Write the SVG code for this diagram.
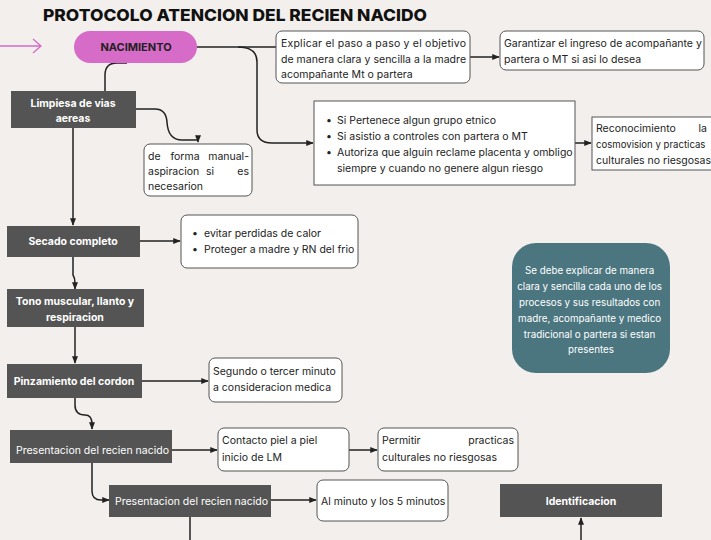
<svg xmlns="http://www.w3.org/2000/svg" width="711" height="540" viewBox="0 0 711 540">
<style>
.t{font-family:Inter,"Open Sans","Liberation Sans",sans-serif;font-size:10.5px;fill:#222}
.w{font-family:Inter,"Open Sans","Liberation Sans",sans-serif;font-size:10.5px;fill:#fff}
.b{font-weight:700}
.dk{fill:#545454}
.bx{fill:#fff;stroke:#555;stroke-width:1}
.c{fill:none;stroke:#222;stroke-width:1.5}
</style>
<defs>
<marker id="ah" viewBox="0 0 10 10" refX="9" refY="5" markerWidth="5" markerHeight="5" orient="auto"><path d="M0 1 L10 5 L0 9 Z" fill="#222"/></marker>
</defs>
<rect width="711" height="540" fill="#f3efec"/>
<text x="43" y="21" font-family="Inter,'DejaVu Sans',sans-serif" font-weight="800" font-size="16.5" fill="#111" textLength="384" lengthAdjust="spacingAndGlyphs">PROTOCOLO ATENCION DEL RECIEN NACIDO</text>

<g id="connectors">
<path d="M0 46 H41 M33 39 L41 46 L33 53" fill="none" stroke="#d66bc8" stroke-width="1.3"/>
<path class="c" d="M197 47 H276"/>
<path class="c" d="M238 47 Q257 47 257 62 V130 Q257 143 272 143 H313" marker-end="url(#ah)"/>
<path class="c" d="M470 57 H499" marker-end="url(#ah)"/>
<path class="c" d="M575 143 H591" marker-end="url(#ah)"/>
<path class="c" d="M127 63 H117 Q105 63 105 75 V91"/>
<path class="c" d="M136 109 H155 Q166 109 167 122 Q168 140 182 140 H198 V142" marker-end="url(#ah)"/>
<path class="c" d="M73 128 V225" marker-end="url(#ah)"/>
<path class="c" d="M140 241 H180" marker-end="url(#ah)"/>
<path class="c" d="M73 257 V275 Q75 278 75 283 V289" marker-end="url(#ah)"/>
<path class="c" d="M75 327 V363" marker-end="url(#ah)"/>
<path class="c" d="M142 381 H208" marker-end="url(#ah)"/>
<path class="c" d="M75 398 V405 Q75 415 85 415 Q92 415 92 424 V429" marker-end="url(#ah)"/>
<path class="c" d="M172 450 H217" marker-end="url(#ah)"/>
<path class="c" d="M349 450 H377" marker-end="url(#ah)"/>
<path class="c" d="M92 463 V491 Q92 500 101 500 H109" marker-end="url(#ah)"/>
<path class="c" d="M271 500 H316" marker-end="url(#ah)"/>
<path class="c" d="M190 517 V540"/>
<path class="c" d="M581 540 V518" marker-end="url(#ah)"/>
</g>

<g id="nacimiento">
<rect x="74" y="31" width="123" height="32" rx="16" fill="#d66bc8"/>
<text class="t b" x="136" y="51" text-anchor="middle" style="font-size:11px">NACIMIENTO</text>
</g>

<g id="explicar">
<rect class="bx" x="276" y="31" width="194" height="52" rx="6"/>
<text class="t" x="281" y="47" textLength="185" lengthAdjust="spacing">Explicar el paso a paso y el objetivo</text>
<text class="t" x="281" y="63" textLength="185" lengthAdjust="spacing">de manera clara y sencilla a la madre</text>
<text class="t" x="281" y="78">acompañante Mt o partera</text>
</g>

<g id="garantizar">
<rect class="bx" x="500" y="31" width="204" height="39" rx="6"/>
<text class="t" x="504" y="47">Garantizar el ingreso de acompañante y</text>
<text class="t" x="504" y="63">partera o MT si asi lo desea</text>
</g>

<g id="bullets1">
<rect class="bx" x="314" y="101" width="261" height="84"/>
<text class="t" x="326" y="124">•</text><text class="t" x="337" y="124">Si Pertenece algun grupo etnico</text>
<text class="t" x="326" y="140">•</text><text class="t" x="337" y="140">Si asistio a controles con partera o MT</text>
<text class="t" x="326" y="156">•</text><text class="t" x="337" y="156">Autoriza que alguin reclame placenta y ombligo</text>
<text class="t" x="337" y="172">siempre y cuando no genere algun riesgo</text>
</g>

<g id="reconocimiento">
<rect class="bx" x="592" y="117" width="125" height="53"/>
<text class="t" x="596" y="132">Reconocimiento</text><text class="t" x="707" y="132" text-anchor="end">la</text>
<text class="t" x="596" y="148" style="font-size:9.6px">cosmovision y practicas</text>
<text class="t" x="596" y="164">culturales no riesgosas</text>
</g>

<g id="limpieza">
<rect class="dk" x="11" y="91" width="125" height="37"/>
<text class="w b" x="73" y="107" text-anchor="middle">Limpiesa de vias</text>
<text class="w b" x="73" y="122" text-anchor="middle">aereas</text>
</g>

<g id="manual">
<rect class="bx" x="144" y="144" width="108" height="52" rx="6"/>
<text class="t" x="148" y="160">de</text><text class="t" x="185" y="160" text-anchor="middle">forma</text><text class="t" x="249" y="160" text-anchor="end">manual-</text>
<text class="t" x="148" y="175">aspiracion</text><text class="t" x="210" y="175" text-anchor="middle">si</text><text class="t" x="249" y="175" text-anchor="end">es</text>
<text class="t" x="148" y="190">necesarion</text>
</g>

<g id="secado">
<rect class="dk" x="7" y="226" width="133" height="31"/>
<text class="w b" x="73" y="245" text-anchor="middle">Secado completo</text>
</g>

<g id="evitar">
<rect class="bx" x="181" y="215" width="177" height="53" rx="6"/>
<text class="t" x="192" y="237">•</text><text class="t" x="204" y="237">evitar perdidas de calor</text>
<text class="t" x="192" y="253">•</text><text class="t" x="204" y="253">Proteger a madre y RN del frio</text>
</g>

<g id="tono">
<rect class="dk" x="7" y="289" width="137" height="38"/>
<text class="w b" x="75" y="305" text-anchor="middle">Tono muscular, llanto y</text>
<text class="w b" x="75" y="321" text-anchor="middle">respiracion</text>
</g>

<g id="pinzamiento">
<rect class="dk" x="7" y="364" width="135" height="34"/>
<text class="w b" x="74" y="385" text-anchor="middle">Pinzamiento del cordon</text>
</g>

<g id="segundo">
<rect class="bx" x="209" y="358" width="133" height="44" rx="6"/>
<text class="t" x="213" y="375">Segundo o tercer minuto</text>
<text class="t" x="213" y="391">a consideracion medica</text>
</g>

<g id="presentacion1">
<rect class="dk" x="10" y="430" width="162" height="33"/>
<text class="w" x="16" y="454">Presentacion del recien nacido</text>
</g>

<g id="contacto">
<rect class="bx" x="218" y="428" width="131" height="43" rx="6"/>
<text class="t" x="222" y="444">Contacto piel a piel</text>
<text class="t" x="222" y="461">inicio de LM</text>
</g>

<g id="permitir">
<rect class="bx" x="378" y="428" width="140" height="43" rx="6"/>
<text class="t" x="382" y="444">Permitir</text><text class="t" x="514" y="444" text-anchor="end">practicas</text>
<text class="t" x="382" y="461">culturales no riesgosas</text>
</g>

<g id="presentacion2">
<rect class="dk" x="109" y="485" width="162" height="32"/>
<text class="w" x="115" y="505">Presentacion del recien nacido</text>
</g>

<g id="alminuto">
<rect class="bx" x="317" y="480" width="131" height="41" rx="6"/>
<text class="t" x="321" y="505">Al minuto y los 5 minutos</text>
</g>

<g id="identificacion">
<rect class="dk" x="500" y="484" width="162" height="33"/>
<text class="w b" x="581" y="505" text-anchor="middle">Identificacion</text>
</g>

<g id="nota">
<rect x="512" y="243" width="158" height="130" rx="24" fill="#4b7680"/>
<text class="w" text-anchor="middle" style="font-size:9.8px">
<tspan x="591" y="274">Se debe explicar de manera</tspan>
<tspan x="591" y="290">clara y sencilla cada uno de los</tspan>
<tspan x="591" y="306">procesos y sus resultados con</tspan>
<tspan x="591" y="322">madre, acompañante y medico</tspan>
<tspan x="591" y="338">tradicional o partera si estan</tspan>
<tspan x="591" y="353">presentes</tspan>
</text>
</g>
</svg>
